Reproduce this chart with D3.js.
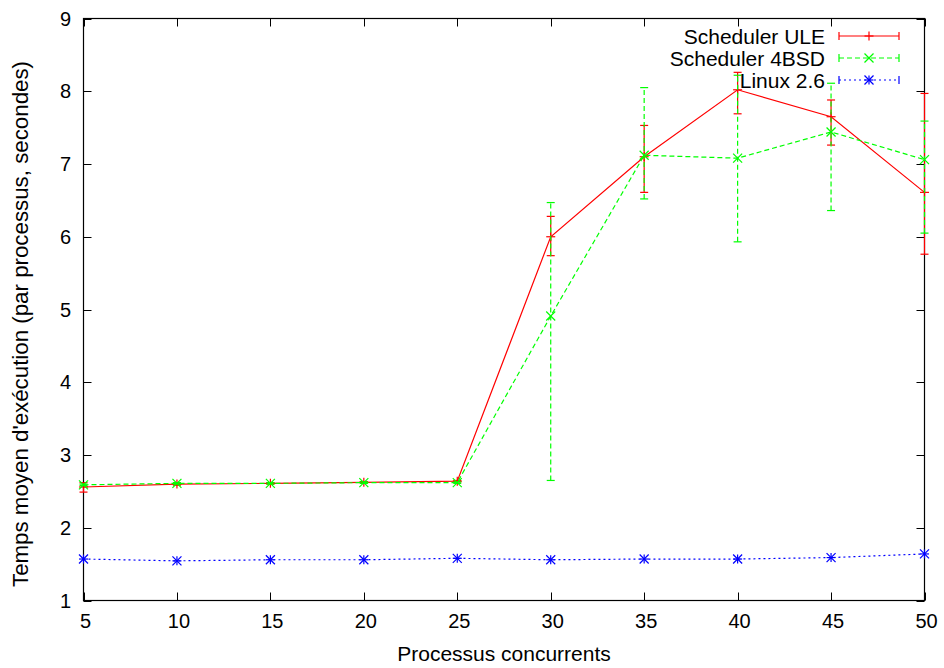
<!DOCTYPE html>
<html><head><meta charset="utf-8">
<script src="https://cdn.jsdelivr.net/npm/d3@7"></script>
<style>
html,body{margin:0;padding:0;background:#fff;}
text{font-family:"Liberation Sans",Arial,sans-serif;fill:#000;}
</style></head>
<body>
<svg id="chart" width="944" height="668"></svg>
<script>
const xValues = [5,10,15,20,25,30,35,40,45,50];
const xTicks = [5,10,15,20,25,30,35,40,45,50];
const yTicks = [1,2,3,4,5,6,7,8,9];

const uleMean = [2.56,2.60,2.61,2.625,2.64,6.00,7.10,8.02,7.65,6.61];
const uleLow  = [2.49,2.585,2.60,2.615,2.63,5.74,6.61,7.69,7.26,5.76];
const uleHigh = [2.62,2.615,2.62,2.635,2.65,6.28,7.53,8.26,7.88,7.97];

const bsdMean = [2.59,2.61,2.61,2.62,2.62,4.91,7.12,7.08,7.44,7.06];
const bsdLow  = [2.58,2.60,2.60,2.61,2.61,2.65,6.52,5.93,6.36,6.05];
const bsdHigh = [2.60,2.62,2.62,2.63,2.63,6.47,8.05,8.22,8.11,7.59];

const linuxMean = [1.57,1.545,1.56,1.56,1.58,1.56,1.57,1.57,1.59,1.64];

const seriesNames = ["Scheduler ULE","Scheduler 4BSD","Linux 2.6"];
const seriesColors = ["#ff0000","#00ff00","#0000ff"];
const xTitle = "Processus concurrents";
const yTitle = "Temps moyen d'exécution (par processus, secondes)";

const svg = d3.select("#chart");
const L = 83.5, R = 924.5, T = 18.5, B = 600.5;
const x = d3.scaleLinear().domain([5,50]).range([L,R]);
const y = d3.scaleLinear().domain([1,9]).range([B,T]);
const FS = 20;
const tickLen = 8;

const g = svg.append("g");
xTicks.forEach(v=>{
  const px = Math.round(x(v))+0.5;
  g.append("line").attr("x1",px).attr("x2",px).attr("y1",B).attr("y2",B-tickLen).attr("stroke","#000");
  g.append("line").attr("x1",px).attr("x2",px).attr("y1",T).attr("y2",T+tickLen).attr("stroke","#000");
  g.append("text").attr("x",x(v)+2).attr("y",628).attr("text-anchor","middle").attr("font-size",FS).text(v);
});
yTicks.forEach(v=>{
  const py = Math.round(y(v))+0.5;
  g.append("line").attr("x1",L).attr("x2",L+tickLen).attr("y1",py).attr("y2",py).attr("stroke","#000");
  g.append("line").attr("x1",R).attr("x2",R-tickLen).attr("y1",py).attr("y2",py).attr("stroke","#000");
  g.append("text").attr("x",71).attr("y",y(v)+7).attr("text-anchor","end").attr("font-size",FS).text(v);
});
svg.append("rect").attr("x",L).attr("y",T).attr("width",R-L).attr("height",B-T)
  .attr("fill","none").attr("stroke","#000").attr("stroke-width",1.2);

svg.append("text").attr("x",(L+R)/2).attr("y",661).attr("text-anchor","middle").attr("font-size",21).text(xTitle);
svg.append("text").attr("transform",`translate(28,324) rotate(-90)`).attr("text-anchor","middle").attr("font-size",22.3).text(yTitle);

const dashes = [null,"5,3","2,3"];
const line = d3.line().x(d=>x(d[0])).y(d=>y(d[1]));

function marker(sel, type, cx, cy, color){
  const s = 4.5;
  const p = [];
  if(type===0 || type===2){ p.push([[cx-s,cy],[cx+s,cy]]); p.push([[cx,cy-s],[cx,cy+s]]); }
  if(type===1 || type===2){ p.push([[cx-s,cy-s],[cx+s,cy+s]]); p.push([[cx-s,cy+s],[cx+s,cy-s]]); }
  p.forEach(seg=>sel.append("line").attr("x1",seg[0][0]).attr("y1",seg[0][1]).attr("x2",seg[1][0]).attr("y2",seg[1][1])
    .attr("stroke",color).attr("stroke-width",1.2));
}

function drawSeries(idx, mean, low, high){
  const color = seriesColors[idx];
  const sg = svg.append("g");
  const pts = xValues.map((v,i)=>[v,mean[i]]);
  sg.append("path").datum(pts).attr("d",line).attr("fill","none").attr("stroke",color)
    .attr("stroke-width",1.2).attr("stroke-dasharray",dashes[idx]);
  if(low){
    xValues.forEach((v,i)=>{
      const px = x(v);
      sg.append("line").attr("x1",px).attr("x2",px).attr("y1",y(low[i])).attr("y2",y(high[i]))
        .attr("stroke",color).attr("stroke-width",1.2).attr("stroke-dasharray",dashes[idx]);
      [low[i],high[i]].forEach(e=>{
        sg.append("line").attr("x1",px-4).attr("x2",px+4).attr("y1",y(e)).attr("y2",y(e))
          .attr("stroke",color).attr("stroke-width",1.2);
      });
    });
  }
  xValues.forEach((v,i)=>marker(sg, idx, x(v), y(mean[i]), color));
  const ly = 36 + idx*22;
  const lg = svg.append("g");
  lg.append("text").attr("x",825).attr("y",ly+7.5).attr("text-anchor","end").attr("font-size",21).text(seriesNames[idx]);
  lg.append("line").attr("x1",839).attr("x2",899).attr("y1",ly).attr("y2",ly).attr("stroke",color)
    .attr("stroke-width",1.2).attr("stroke-dasharray",dashes[idx]);
  [839,899].forEach(ex=>lg.append("line").attr("x1",ex).attr("x2",ex).attr("y1",ly-4).attr("y2",ly+4)
    .attr("stroke",color).attr("stroke-width",1.2));
  marker(lg, idx, 869, ly, color);
}
drawSeries(0, uleMean, uleLow, uleHigh);
drawSeries(1, bsdMean, bsdLow, bsdHigh);
drawSeries(2, linuxMean, null, null);
</script>
</body></html>
